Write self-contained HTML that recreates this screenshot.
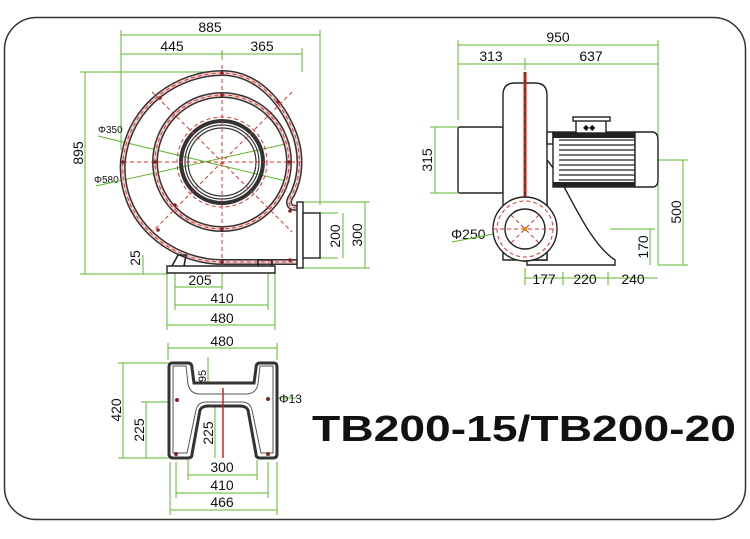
<!DOCTYPE html>
<html><head><meta charset="utf-8"><style>
html,body{margin:0;padding:0;background:#fff;}
svg{display:block}
text{font-family:"Liberation Sans",Arial,sans-serif;}
.d{font-size:14px;fill:#111}
.g{stroke:#5cb82a;stroke-width:1;fill:none}
.k{stroke:#222;stroke-width:1.6;fill:none}
.kf{stroke:#222;stroke-width:1.4;fill:#fff}
.r{stroke:#d33;stroke-width:1;fill:none;stroke-dasharray:4 3}
</style></head><body>
<svg width="750" height="539" viewBox="0 0 750 539" xmlns="http://www.w3.org/2000/svg">
<rect x="4.5" y="17.5" width="741" height="502" rx="32" fill="none" stroke="#333" stroke-width="1.5"/>

<!-- FRONT VIEW -->
<g>
<path class="g" d="M121 35H320M121 54H302M121 30V150M320 30V205M302 48V72M222 50V60M85 72V274M80 72H222M80 274H167M343 213V258M338 213H320M338 258H320M365 202V268M303 202H370M303 268H370M143 255V274M175 287H222M175 305H268M167 325H275M175 270V310M268 270V310M167 270V330M275 270V330M222 270V290"/>
<text class="d" x="210" y="32" text-anchor="middle">885</text>
<text class="d" x="172" y="51" text-anchor="middle">445</text>
<text class="d" x="262" y="51" text-anchor="middle">365</text>
<text class="d" transform="translate(83,153) rotate(-90)" text-anchor="middle">895</text>
<text class="d" transform="translate(340,236) rotate(-90)" text-anchor="middle">200</text>
<text class="d" transform="translate(362,235) rotate(-90)" text-anchor="middle">300</text>
<text class="d" transform="translate(140,258) rotate(-90)" text-anchor="middle">25</text>
<text class="d" x="200" y="285" text-anchor="middle">205</text>
<text class="d" x="222" y="303" text-anchor="middle">410</text>
<text class="d" x="222" y="323" text-anchor="middle">480</text>
<text x="98" y="133" font-size="10" fill="#111">Φ350</text>
<text x="94" y="183" font-size="10" fill="#111">Φ580</text>
<path d="M98 136L290 182M96 186L290 143" stroke="#5cb82a" stroke-width="1"/>
<!-- scroll -->
<path d="M297 208C288 208 287 202 292 195C302 175 302 150 292 128C276 92 250 73 222 73C180 73 130 103 123 160C118 220 170 262 222 262H297" style="fill:none;stroke:#333;stroke-width:6"/>
<path d="M297 208C288 208 287 202 292 195C302 175 302 150 292 128C276 92 250 73 222 73C180 73 130 103 123 160C118 220 170 262 222 262H297" style="fill:none;stroke:#f5d3d3;stroke-width:3"/>
<path d="M297 208C288 208 287 202 292 195C302 175 302 150 292 128C276 92 250 73 222 73C180 73 130 103 123 160C118 220 170 262 222 262H297" class="r"/>
<circle cx="222" cy="162" r="67" style="fill:none;stroke:#333;stroke-width:6"/>
<circle cx="222" cy="162" r="67" style="fill:none;stroke:#f5d3d3;stroke-width:3"/>
<circle cx="222" cy="162" r="67" class="r"/>
<circle cx="222" cy="162" r="41" fill="none" stroke="#333" stroke-width="4"/>
<circle cx="222" cy="162" r="37" fill="none" stroke="#333" stroke-width="1.2"/>
<circle cx="222" cy="162" r="34" fill="none" stroke="#333" stroke-width="1.2"/>
<circle cx="222" cy="162" r="45" class="r"/>
<path class="r" d="M123 162H302M222 65V265M152 92L292 232M292 92L152 232"/>
<rect x="297" y="202" width="6" height="66" class="kf"/>
<rect x="303" y="213" width="17" height="45" class="kf"/>
<path class="kf" d="M167 273V266H275V273Z"/>
<path class="k" d="M172 266L178 255H186L184 266M258 266V260H272V266"/>
<g fill="#822"><circle cx="222" cy="73" r="1.8"/><circle cx="222" cy="95" r="1.8"/><circle cx="222" cy="229" r="1.8"/><circle cx="222" cy="262" r="1.8"/><circle cx="155" cy="162" r="1.8"/><circle cx="289" cy="162" r="1.8"/><circle cx="123" cy="162" r="1.8"/><circle cx="160" cy="98" r="1.8"/><circle cx="278" cy="102" r="1.8"/><circle cx="175" cy="205" r="1.8"/><circle cx="158" cy="230" r="1.8"/><circle cx="290" cy="260" r="1.8"/><circle cx="290" cy="211" r="1.8"/></g>
</g>

<!-- SIDE VIEW -->
<g>
<path class="g" d="M458 45H658M458 64H658M458 40V120M658 40V265M525 58V70M435 127V193M430 127H458M430 193H458M683 160V265M658 160H688M658 265H688M650 229V265M610 229H655M525 278H658M525 268V285M563 272V285M608 272V285"/>
<text class="d" x="558" y="42" text-anchor="middle">950</text>
<text class="d" x="491" y="61" text-anchor="middle">313</text>
<text class="d" x="591" y="61" text-anchor="middle">637</text>
<text class="d" transform="translate(432,160) rotate(-90)" text-anchor="middle">315</text>
<text class="d" transform="translate(681,212) rotate(-90)" text-anchor="middle">500</text>
<text class="d" transform="translate(648,247) rotate(-90)" text-anchor="middle">170</text>
<text class="d" x="544" y="284" text-anchor="middle">177</text>
<text class="d" x="585" y="284" text-anchor="middle">220</text>
<text class="d" x="633" y="284" text-anchor="middle">240</text>
<text class="d" x="451" y="239">Φ250</text>
<path d="M452 242L555 222" stroke="#5cb82a" stroke-width="1"/>
<rect x="458" y="127" width="45" height="66" rx="2" class="kf"/>
<path class="kf" d="M547 160C565 180 585 240 615 260V265H527V260H547Z"/>
<path class="kf" d="M503 260V95Q503 83 515 83H535Q547 83 547 95V260Z"/>
<rect x="547" y="132" width="6" height="12" class="kf"/>
<rect x="553" y="132" width="82" height="55" class="kf"/>
<g stroke="#222" stroke-width="1.2"><path d="M559 140H635M559 145H635M559 150H635M559 155H635M559 160H635M559 165H635M559 170H635M559 175H635M559 180H635"/></g>
<rect x="553" y="132" width="82" height="6" fill="#222"/>
<rect x="553" y="182" width="82" height="5" fill="#222"/>
<path class="kf" d="M635 132H652Q658 132 658 140V180Q658 187 652 187H635Z"/>
<rect x="576" y="120" width="30" height="13" class="kf"/>
<rect x="573" y="117" width="37" height="4" class="kf"/>
<text x="583" y="130" font-size="8" fill="#111">◆◆</text>
<path d="M525 72V262" stroke="#b22" stroke-width="3"/>
<path d="M525 72V262" stroke="#333" stroke-width="1" stroke-dasharray="2 6"/>
<circle cx="525" cy="229" r="32" class="kf" stroke-width="2"/>
<circle cx="525" cy="229" r="28" class="r"/>
<circle cx="525" cy="229" r="20" class="kf" stroke-width="3"/>
<path class="r" d="M493 229H557M511 215L539 243M539 215L511 243"/>
<circle cx="525" cy="229" r="2" fill="#d80"/>
</g>

<!-- BOTTOM VIEW -->
<g>
<path class="g" d="M168 348H277M168 343V360M277 343V360M123 363V458M118 363H168M118 458H168M146 402V458M141 402H168M215 407V458M208 357V385M188 475H257M188 460V480M257 460V480M176 493H268M176 462V498M268 462V498M170 510H277M170 462V515M277 462V515M270 398H298"/>
<text class="d" x="222" y="346" text-anchor="middle">480</text>
<text class="d" transform="translate(121,410) rotate(-90)" text-anchor="middle">420</text>
<text class="d" transform="translate(144,430) rotate(-90)" text-anchor="middle">225</text>
<text class="d" transform="translate(213,433) rotate(-90)" text-anchor="middle">225</text>
<text transform="translate(206,376) rotate(-90)" font-size="11" fill="#111" text-anchor="middle">95</text>
<text class="d" x="222" y="472" text-anchor="middle">300</text>
<text class="d" x="222" y="490" text-anchor="middle">410</text>
<text class="d" x="222" y="507" text-anchor="middle">466</text>
<text x="279" y="403" font-size="12" fill="#111">Φ13</text>
<path d="M172 363H188Q192 363 192 368L194 383H254L256 368Q256 363 260 363H274Q277 363 277 367V454Q277 458 273 458H260Q256 458 256 454L248 410Q246 406 240 406H208Q202 406 200 410L192 454Q192 458 188 458H173Q169 458 169 454V367Q169 363 172 363Z" fill="#fff" stroke="#333" stroke-width="3"/>
<path d="M173 366H186L188 384Q190 394 200 394H246Q256 394 258 384L260 366H273V453H261L252 410Q250 402 242 402H206Q198 402 196 410L187 453H173Z" fill="none" stroke="#555" stroke-width="1"/>
<path d="M223 388V458" stroke="#c22" stroke-width="1.5"/>
<g fill="#822"><circle cx="177" cy="400" r="2"/><circle cx="176" cy="454" r="2"/><circle cx="268" cy="454" r="2"/><circle cx="268" cy="399" r="2"/></g>
</g>

<text x="312" y="441" font-family="'DejaVu Sans','Liberation Sans',sans-serif" font-weight="bold" font-size="36" fill="#111" textLength="424" lengthAdjust="spacingAndGlyphs">TB200-15/TB200-20</text>
</svg>
</body></html>
